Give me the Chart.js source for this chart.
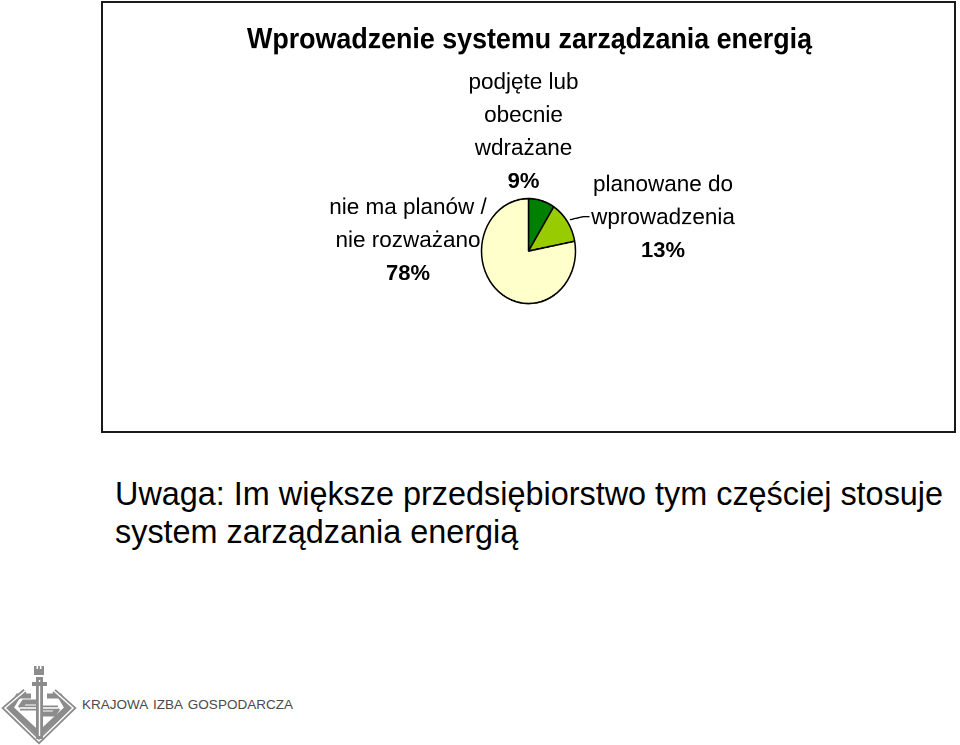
<!DOCTYPE html>
<html lang="pl">
<head>
<meta charset="utf-8">
<title>Wprowadzenie systemu zarządzania energią</title>
<script src="https://cdn.jsdelivr.net/npm/chart.js@4.4.1/dist/chart.umd.min.js"></script>
<style>
html, body { margin: 0; padding: 0; background: #fff; }
body { width: 960px; height: 745px; position: relative; overflow: hidden; font-family: "Liberation Sans", Arial, sans-serif; }
.chart-box { position: absolute; left: 101px; top: 1px; width: 851px; height: 428px; border: 2px solid #1a1a1a; }
.note { position: absolute; left: 115px; top: 475px; font-size: 32.4px; line-height: 38px; color: #000; white-space: nowrap; }
.logo { position: absolute; left: 0; top: 660px; }
.logo-text { position: absolute; left: 82px; top: 697px; font-size: 13.5px; line-height: 16px; color: #4a4a4a; word-spacing: 1.8px; white-space: nowrap; }
</style>
</head>
<body>
<div class="chart-box">
  <canvas id="pieChart" width="851" height="383" style="width:851px;height:428px"></canvas>
</div>
<div class="note">Uwaga: Im większe przedsiębiorstwo tym częściej stosuje<br>system zarządzania energią</div>

<svg class="logo" width="80" height="85" viewBox="0 0 80 85">
  <g fill="none" stroke="#8c8c8c" stroke-width="5" stroke-linejoin="miter">
    <path d="M25 31 L5 48 L39 81 L73 48 L54 31" />
    <path d="M31 36 L18 36 L11 48 L39 74 L67 48 L60 36 L47 36" />
    <path d="M20 48 H58" />
    <path d="M36 42 H24 L20 48" />
    <path d="M42 54 H54 L58 48" />
  </g>
  <g fill="none" stroke="#fff" stroke-width="1.4">
    <path d="M25 31 L5 48 L39 81 L73 48 L54 31" />
    <path d="M20 48 H58" />
  </g>
  <rect x="36" y="17" width="7" height="62" fill="#8c8c8c" />
  <rect x="38.8" y="20" width="1.4" height="56" fill="#fff" />
  <rect x="32" y="22" width="15" height="4" fill="#8c8c8c" />
  <path d="M34 6 h2.5 v3 h1.6 v-3 h1.8 v3 h1.6 v-3 h2.5 v9 h-10 z" fill="#8c8c8c" />
</svg>
<div class="logo-text">KRAJOWA IZBA GOSPODARCZA</div>

<script>
const chartTitle = 'Wprowadzenie systemu zarządzania energią'
const categories = [
    ['podjęte lub', 'obecnie', 'wdrażane'],
    ['planowane do', 'wprowadzenia'],
    ['nie ma planów /', 'nie rozważano']
]
const values = [9, 13, 78]
const colors = ['#007F00', '#99CC00', '#FFFFCC']

const labelPlugin = {
    id: 'pieLabels',
    afterDraw(chart) {
        const ctx = chart.ctx
        const arcs = chart.getDatasetMeta(0).data
        // canvas is stretched vertically by css, draw text in css pixels
        const sy = chart.canvas.clientHeight / chart.height
        const cx = arcs[0].x
        const cy = arcs[0].y * sy
        const total = values.reduce((a, b) => a + b, 0)

        ctx.save()
        ctx.scale(1, 1 / sy)
        ctx.fillStyle = '#000'
        ctx.textAlign = 'center'
        ctx.textBaseline = 'alphabetic'

        ctx.font = 'bold 29px "Liberation Sans Narrow", "Liberation Sans", Arial, sans-serif'
        ctx.fillText(chartTitle, 426.5, 45, 565)

        // where each label block sits, relative to the pie centre
        const spots = [
            {dx: -5, dy: -162},
            {dx: 134.5, dy: -60},
            {dx: -120.5, dy: -37}
        ]
        const lineH = 33

        categories.forEach(function(lines, i){
            const x = cx + spots[i].dx
            let y = cy + spots[i].dy
            ctx.font = '22.5px "Liberation Sans", Arial, sans-serif'
            lines.forEach(function(line){
                ctx.fillText(line, x, y)
                y += lineH
            })
            ctx.font = 'bold 22px "Liberation Sans", Arial, sans-serif'
            ctx.fillText(Math.round(values[i] / total * 100) + '%', x, y)
        })

        // leader line for the second slice
        const arc = arcs[1]
        const mid = (arc.startAngle + arc.endAngle) / 2
        const r = arc.outerRadius + 3
        ctx.strokeStyle = '#000'
        ctx.lineWidth = 1.3
        ctx.beginPath()
        ctx.moveTo(cx + Math.cos(mid) * r, cy + Math.sin(mid) * r * sy)
        ctx.lineTo(cx + 55, cy - 34.5)
        ctx.lineTo(cx + 61, cy - 34.5)
        ctx.stroke()

        ctx.restore()
    }
}

const pie = () =>{
    const ctx = document.getElementById('pieChart').getContext('2d')

    const config = {
        type: 'pie',
        data: {
            labels: categories.map(l => l.join(' ')),
            datasets: [{
                data: values,
                backgroundColor: colors,
                borderColor: '#000',
                borderWidth: 1.5,
                radius: 47
            }]
        },
        options: {
            responsive: false,
            devicePixelRatio: 2,
            animation: false,
            events: [],
            layout: {
                padding: {top: 61, bottom: 0, left: 0, right: 0}
            },
            plugins: {
                legend: {display: false},
                title: {display: false},
                tooltip: {enabled: false}
            }
        },
        plugins: [labelPlugin]
    }

    new Chart(ctx, config)
}

pie()
</script>
</body>
</html>
